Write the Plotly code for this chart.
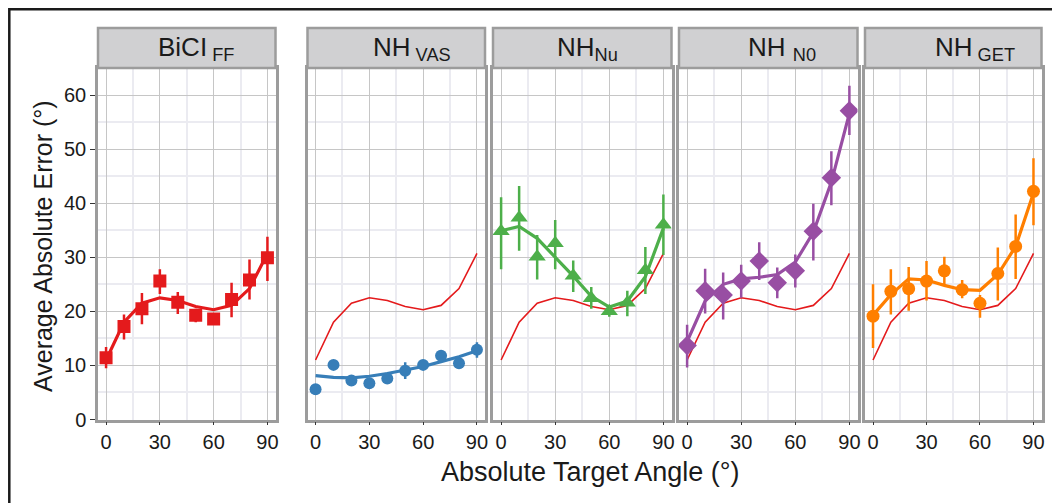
import plotly.graph_objects as go

# The page body has an 8px margin, so the figure is sized/offset accordingly.
OFF = 8
W, H = 1060 - OFF, 503 - OFF

angles = [0, 10, 20, 30, 40, 50, 60, 70, 80, 90]

panel_names = ["BiCI<sub> FF</sub>", "NH<sub> VAS</sub>", "NH<sub>Nu</sub>", "NH <sub>N0</sub>", "NH<sub> GET</sub>"]

ref_fit = [11.0, 18.0, 21.5, 22.5, 22.0, 20.9, 20.3, 21.1, 24.2, 30.7]

bicl_mean = [11.4, 17.2, 20.5, 25.6, 21.7, 19.3, 18.6, 22.2, 25.8, 29.9]
bicl_lo = [9.5, 14.8, 17.6, 23.2, 19.5, 18.0, 17.8, 18.9, 22.2, 25.6]
bicl_hi = [13.4, 19.4, 23.4, 27.8, 23.6, 20.5, 19.4, 25.3, 29.6, 33.8]
bicl_fit = [11.0, 18.0, 21.5, 22.5, 22.0, 20.9, 20.3, 21.1, 24.2, 30.7]

vas_mean = [5.6, 10.1, 7.2, 6.7, 7.6, 9.0, 10.1, 11.8, 10.4, 12.9]
vas_lo = [5.0, 9.5, 6.6, 6.1, 7.0, 7.5, 9.4, 11.1, 9.8, 11.4]
vas_hi = [6.2, 10.7, 7.8, 7.3, 8.2, 10.6, 10.8, 12.5, 11.0, 14.3]
vas_fit = [8.1, 7.8, 7.7, 8.0, 8.5, 9.1, 9.8, 10.7, 11.6, 12.7]

nu_mean = [34.8, 37.3, 30.1, 32.6, 26.6, 22.4, 20.0, 21.6, 27.6, 36.0]
nu_lo = [27.8, 31.2, 25.9, 27.8, 23.6, 20.5, 19.0, 19.1, 23.2, 30.4]
nu_hi = [41.1, 43.2, 34.1, 36.9, 29.4, 24.5, 21.0, 23.8, 31.9, 41.6]
nu_fit = [34.9, 35.7, 33.5, 30.1, 26.5, 22.8, 20.8, 21.9, 26.4, 35.4]

n0_mean = [13.7, 23.8, 23.0, 25.6, 29.3, 25.3, 27.5, 34.8, 44.7, 57.1]
n0_lo = [9.6, 19.6, 18.5, 22.5, 25.8, 22.4, 24.4, 29.4, 39.6, 52.6]
n0_hi = [17.5, 27.9, 27.2, 28.6, 32.8, 28.1, 30.5, 39.9, 49.6, 61.7]
n0_fit = [14.4, 21.9, 25.0, 26.0, 26.3, 26.8, 29.1, 34.6, 43.9, 56.6]

get_mean = [19.1, 23.7, 24.2, 25.6, 27.5, 24.0, 21.5, 27.0, 32.0, 42.2]
get_lo = [13.2, 19.4, 20.1, 22.0, 25.0, 22.4, 18.8, 22.0, 26.0, 35.9]
get_hi = [25.0, 27.8, 28.2, 29.3, 30.1, 25.8, 23.0, 31.8, 37.9, 48.3]
get_fit = [19.3, 23.1, 26.0, 25.8, 24.8, 24.0, 23.9, 26.8, 32.0, 41.9]

means = [bicl_mean, vas_mean, nu_mean, n0_mean, get_mean]
los = [bicl_lo, vas_lo, nu_lo, n0_lo, get_lo]
his = [bicl_hi, vas_hi, nu_hi, n0_hi, get_hi]
fits = [bicl_fit, vas_fit, nu_fit, n0_fit, get_fit]

colors = ["#E41A1C", "#377EB8", "#4DAF4A", "#984EA3", "#FF7F00"]
symbols = ["square", "circle", "triangle-up", "diamond", "circle"]
msizes = [13, 12, 15, 15, 13]

# layout geometry in screen pixels (reference image coordinates)
panel_px = [(98, 275.5), (307.5, 485), (493, 671.5), (679, 857.5), (865, 1041.5)]
strip_top, strip_bot, plot_bot = 28, 68, 419.5
label_cx = [196, 412, 587, 782, 975]


def px(x):
    return (x - OFF) / W


def py(y):
    return 1 - (y - OFF) / H


fig = go.Figure()
shapes = []
annotations = []
layout = {}

FONT = "Liberation Sans, Arial, sans-serif"
GRAY = "#9C9C9C"

for i in range(5):
    ax = "" if i == 0 else str(i + 1)
    xa, ya = "x" + ax, "y" + ax
    l, r = panel_px[i]
    layout["xaxis" + ax] = dict(
        domain=[px(l), px(r)], range=[-4.5, 94.5], anchor=ya,
        tickvals=[0, 30, 60, 90], ticktext=["0", "30", "60", "90"],
        ticks="outside", ticklen=3, tickwidth=1.2, tickcolor="#333333",
        tickfont=dict(size=20, color="#1a1a1a", family=FONT),
        showgrid=True, gridcolor="#C6C6C6", gridwidth=1,
        minor=dict(tickvals=[15, 45, 75], showgrid=True, gridcolor="#EBEBF1", gridwidth=1.6, ticks=""),
        showline=True, linecolor=GRAY, linewidth=2.5, mirror=True,
        zeroline=False, automargin=False, fixedrange=True,
    )
    layout["yaxis" + ax] = dict(
        domain=[py(plot_bot), py(strip_bot)], range=[0, 65], anchor=xa,
        tickvals=[0, 10, 20, 30, 40, 50, 60],
        showticklabels=(i == 0), ticks="outside" if i == 0 else "",
        ticklen=5, tickwidth=1.2, tickcolor="#333333",
        tickfont=dict(size=20, color="#1a1a1a", family=FONT),
        showgrid=True, gridcolor="#C6C6C6", gridwidth=1,
        minor=dict(tickvals=[5, 15, 25, 35, 45, 55, 65], showgrid=True, gridcolor="#EBEBF1", gridwidth=1.6, ticks=""),
        showline=True, linecolor=GRAY, linewidth=2.5, mirror=True,
        zeroline=False, automargin=False, fixedrange=True,
    )
    if i > 0:
        fig.add_trace(go.Scatter(x=angles, y=ref_fit, mode="lines", xaxis=xa, yaxis=ya,
                                 line=dict(color="#E41A1C", width=1.6), showlegend=False, hoverinfo="skip"))
    err_plus = [h - m for h, m in zip(his[i], means[i])]
    err_minus = [m - lo for m, lo in zip(means[i], los[i])]
    fig.add_trace(go.Scatter(x=angles, y=fits[i], mode="lines", xaxis=xa, yaxis=ya,
                             line=dict(color=colors[i], width=3.2), showlegend=False))
    fig.add_trace(go.Scatter(
        x=angles, y=means[i], mode="markers", xaxis=xa, yaxis=ya,
        marker=dict(color=colors[i], symbol=symbols[i], size=msizes[i], line=dict(width=0)),
        error_y=dict(type="data", symmetric=False, array=err_plus, arrayminus=err_minus,
                     color=colors[i], thickness=2.5, width=0),
        showlegend=False))
    shapes.append(dict(type="rect", xref="paper", yref="paper",
                       x0=px(l), x1=px(r), y0=py(strip_bot), y1=py(strip_top),
                       fillcolor="#D0D0D2", line=dict(color=GRAY, width=2.5), layer="above"))
    annotations.append(dict(text=panel_names[i], xref="paper", yref="paper",
                            x=px(label_cx[i]), y=py(49), xanchor="center", yanchor="middle",
                            showarrow=False, font=dict(size=26, color="#1a1a1a", family=FONT)))

# outer frame (top and left edges visible), drawn just inside the figure edge
shapes.append(dict(type="rect", xref="paper", yref="paper",
                   x0=px(OFF + 1.3), x1=px(1075), y0=py(520), y1=py(OFF + 1.3),
                   line=dict(color="#1a1a1a", width=2.5), fillcolor="rgba(0,0,0,0)"))

annotations.append(dict(text="Average Absolute Error (°)", xref="paper", yref="paper",
                        x=px(43), y=py(246), xanchor="center", yanchor="middle", textangle=-90,
                        showarrow=False, font=dict(size=25, color="#1a1a1a", family=FONT)))
annotations.append(dict(text="Absolute Target Angle (°)", xref="paper", yref="paper",
                        x=px(590), y=py(472), xanchor="center", yanchor="middle",
                        showarrow=False, font=dict(size=27, color="#1a1a1a", family=FONT)))

fig.update_layout(
    width=W, height=H, margin=dict(l=0, r=0, t=0, b=0),
    paper_bgcolor="white", plot_bgcolor="white",
    showlegend=False, shapes=shapes, annotations=annotations,
    font=dict(family=FONT), **layout,
)

fig.write_html("out.html")
